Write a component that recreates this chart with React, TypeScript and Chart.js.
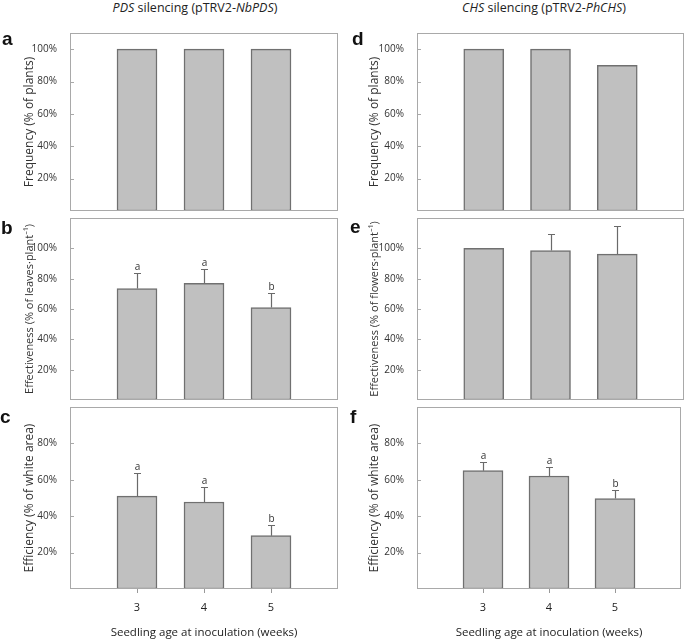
import React, { useEffect, useRef } from 'react';
import { Chart, registerables } from 'chart.js';
Chart.register(...registerables);

// ---------- data ----------
const weeks = ['3', '4', '5'];
const yTickValues = [20, 40, 60, 80, 100];

const pdsFrequency = [100, 100, 100];
const pdsEffectiveness = [73.5, 77, 61];
const pdsEffectivenessErrTop = [83.5, 86.5, 70.3];
const pdsEffectivenessLetters = ['a', 'a', 'b'];
const pdsEfficiency = [51, 47.8, 29.3];
const pdsEfficiencyErrTop = [64, 56, 35.2];
const pdsEfficiencyLetters = ['a', 'a', 'b'];

const chsFrequency = [100, 100, 90];
const chsEffectiveness = [100, 98.6, 96.2];
const chsEffectivenessErrTop = [null, 109.5, 115];
const chsEfficiency = [65, 62.1, 49.7];
const chsEfficiencyErrTop = [69.9, 66.9, 54.3];
const chsEfficiencyLetters = ['a', 'a', 'b'];

const FONT = "'Open Sans', 'Noto Sans', 'DejaVu Sans', sans-serif";

const decorPlugin = {
  id: 'decor',
  afterDatasetsDraw(chart: any, _args: any, opts: any) {
    const { ctx, chartArea: a, scales } = chart;
    const x = scales.x;
    const y = scales.y;
    ctx.save();
    // frame
    ctx.strokeStyle = '#a9a9a9';
    ctx.lineWidth = 1;
    ctx.strokeRect(a.left + 0.5, a.top + 0.5, a.right - a.left - 1, a.bottom - a.top - 1);
    // y tick marks (inside)
    for (const v of yTickValues) {
      if (v >= opts.yMax) continue;
      const py = Math.round(y.getPixelForValue(v)) + 0.5;
      ctx.beginPath();
      ctx.moveTo(a.left, py);
      ctx.lineTo(a.left + 4, py);
      ctx.stroke();
    }
    // x tick marks (below)
    if (opts.xTicks) {
      ctx.strokeStyle = '#999';
      for (let i = 1; i <= weeks.length; i++) {
        const px = Math.round(x.getPixelForValue(i)) + 0.5;
        ctx.beginPath();
        ctx.moveTo(px, a.bottom);
        ctx.lineTo(px, a.bottom + 4);
        ctx.stroke();
      }
    }
    // error bars + letters
    const vals = opts.values || [];
    const errs = opts.errs || [];
    const letters = opts.letters || [];
    for (let i = 0; i < vals.length; i++) {
      const px = Math.round(x.getPixelForValue(i + 1)) + 0.5;
      let topY = y.getPixelForValue(vals[i]);
      if (errs[i] != null) {
        const ey = Math.round(y.getPixelForValue(errs[i])) + 0.5;
        const by = y.getPixelForValue(vals[i]);
        ctx.strokeStyle = '#6a6a6a';
        ctx.lineWidth = 1.2;
        ctx.beginPath();
        ctx.moveTo(px, by);
        ctx.lineTo(px, ey);
        ctx.moveTo(px - 3.5, ey);
        ctx.lineTo(px + 3.5, ey);
        ctx.stroke();
        topY = ey;
      }
      if (letters[i]) {
        ctx.fillStyle = '#333';
        ctx.font = `10px ${FONT}`;
        ctx.textAlign = 'center';
        ctx.textBaseline = 'alphabetic';
        ctx.fillText(letters[i], px, topY - 4);
      }
    }
    ctx.restore();
  },
};

type PanelProps = {
  left: number;
  top: number;
  width: number;
  height: number;
  yAxisWidth: number;
  padRight: number;
  padTop: number;
  padBottom: number;
  yMax: number;
  yTitle: string;
  yTitleSize: number;
  values: number[];
  errs?: (number | null)[];
  letters?: string[];
  showX: boolean;
};

function Panel(p: PanelProps) {
  const ref = useRef<HTMLCanvasElement | null>(null);
  useEffect(() => {
    if (!ref.current) return;
    const labels = ['', ...weeks, ''];
    const data = [null, ...p.values, null];
    const chart = new Chart(ref.current, {
      type: 'bar',
      data: {
        labels,
        datasets: [
          {
            data: data as any,
            backgroundColor: '#c0c0c0',
            borderColor: '#707070',
            borderWidth: 1.5,
            borderSkipped: false,
            barThickness: 40,
          },
        ],
      },
      plugins: [decorPlugin],
      options: {
        animation: false,
        responsive: false,
        maintainAspectRatio: false,
        layout: { padding: { left: 0, right: p.padRight, top: p.padTop, bottom: p.padBottom } },
        plugins: {
          legend: { display: false },
          tooltip: { enabled: false },
          decor: { values: p.values, errs: p.errs, letters: p.letters, xTicks: p.showX, yMax: p.yMax },
        } as any,
        scales: {
          x: {
            type: 'category',
            display: p.showX,
            offset: false,
            grid: { display: false },
            border: { display: false },
            ticks: {
              color: '#222',
              font: { family: FONT, size: 11 },
              padding: 4,
              autoSkip: false,
              maxRotation: 0,
            },
            title: {
              display: true,
              text: 'Seedling age at inoculation (weeks)',
              color: '#222',
              font: { family: FONT, size: 11.5 },
              padding: { top: 0, bottom: 0 },
            },
            afterFit: (s: any) => {
              if (p.showX) s.height = 51;
            },
          },
          y: {
            min: 0,
            max: p.yMax,
            grid: { display: false },
            border: { display: false },
            ticks: {
              stepSize: 20,
              autoSkip: false,
              color: '#333',
              font: { family: FONT, size: 10 },
              padding: 5,
              callback: (v: any) =>
                yTickValues.includes(Number(v)) && Number(v) < p.yMax ? `${v}%` : '',
            },
            title: {
              display: true,
              text: p.yTitle,
              color: '#333',
              font: { family: FONT, size: p.yTitleSize },
              padding: { top: 30 - (p.yTitleSize * 1.2) / 2, bottom: 0 },
            },
            afterFit: (s: any) => {
              s.width = p.yAxisWidth;
            },
          },
        },
      },
    });
    return () => chart.destroy();
  }, []);
  return (
    <canvas
      ref={ref}
      width={p.width}
      height={p.height}
      style={{ position: 'absolute', left: p.left, top: p.top, width: p.width, height: p.height }}
    />
  );
}

const letterStyle: React.CSSProperties = {
  position: 'absolute',
  fontFamily: "'Liberation Sans', Arial, sans-serif",
  fontWeight: 'bold',
  fontSize: 19,
  lineHeight: '19px',
  color: '#111',
};

const colTitleStyle: React.CSSProperties = {
  position: 'absolute',
  top: 0,
  fontFamily: FONT,
  fontSize: 12.5,
  lineHeight: '16px',
  color: '#222',
  whiteSpace: 'nowrap',
  transform: 'translateX(-50%)',
};

export default function App() {
  const L = { left: 0, width: 345, yAxisWidth: 70, padRight: 7 };
  const R = { left: 345, width: 340, yAxisWidth: 72, padRight: 1 };
  const rowA = { top: 22, height: 200, padTop: 7, padBottom: 7, yMax: 110, showX: false, yTitleSize: 12 };
  const rowB = { top: 207, height: 204, padTop: 7, padBottom: 7, yMax: 120, showX: false, yTitleSize: 11 };
  const rowC = { top: 396, height: 244, padTop: 7, padBottom: 0, yMax: 100, showX: true, yTitleSize: 12 };
  return (
    <div style={{ position: 'absolute', left: 0, top: 0, width: 685, height: 640, background: '#fff', overflow: 'hidden' }}>
      <div style={{ ...colTitleStyle, left: 195 }}>
        <i>PDS</i> silencing (pTRV2-<i>NbPDS</i>)
      </div>
      <div style={{ ...colTitleStyle, left: 544 }}>
        <i>CHS</i> silencing (pTRV2-<i>PhCHS</i>)
      </div>

      <Panel {...L} {...rowA} yTitle="Frequency (% of plants)" values={pdsFrequency} />
      <Panel
        {...L}
        {...rowB}
        yTitle="Effectiveness (% of leaves·plant⁻¹)"
        values={pdsEffectiveness}
        errs={pdsEffectivenessErrTop}
        letters={pdsEffectivenessLetters}
      />
      <Panel
        {...L}
        {...rowC}
        yTitle="Efficiency (% of white area)"
        values={pdsEfficiency}
        errs={pdsEfficiencyErrTop}
        letters={pdsEfficiencyLetters}
      />

      <Panel {...R} {...rowA} yTitle="Frequency (% of plants)" values={chsFrequency} />
      <Panel
        {...R}
        {...rowB}
        yTitle="Effectiveness (% of flowers·plant⁻¹)"
        values={chsEffectiveness}
        errs={chsEffectivenessErrTop}
      />
      <Panel
        {...R}
        {...rowC}
        yTitle="Efficiency (% of white area)"
        values={chsEfficiency}
        errs={chsEfficiencyErrTop}
        letters={chsEfficiencyLetters}
      />

      <div style={{ ...letterStyle, left: 2, top: 29 }}>a</div>
      <div style={{ ...letterStyle, left: 1, top: 218 }}>b</div>
      <div style={{ ...letterStyle, left: 0, top: 407 }}>c</div>
      <div style={{ ...letterStyle, left: 352, top: 29 }}>d</div>
      <div style={{ ...letterStyle, left: 350, top: 217 }}>e</div>
      <div style={{ ...letterStyle, left: 350, top: 407 }}>f</div>
    </div>
  );
}
